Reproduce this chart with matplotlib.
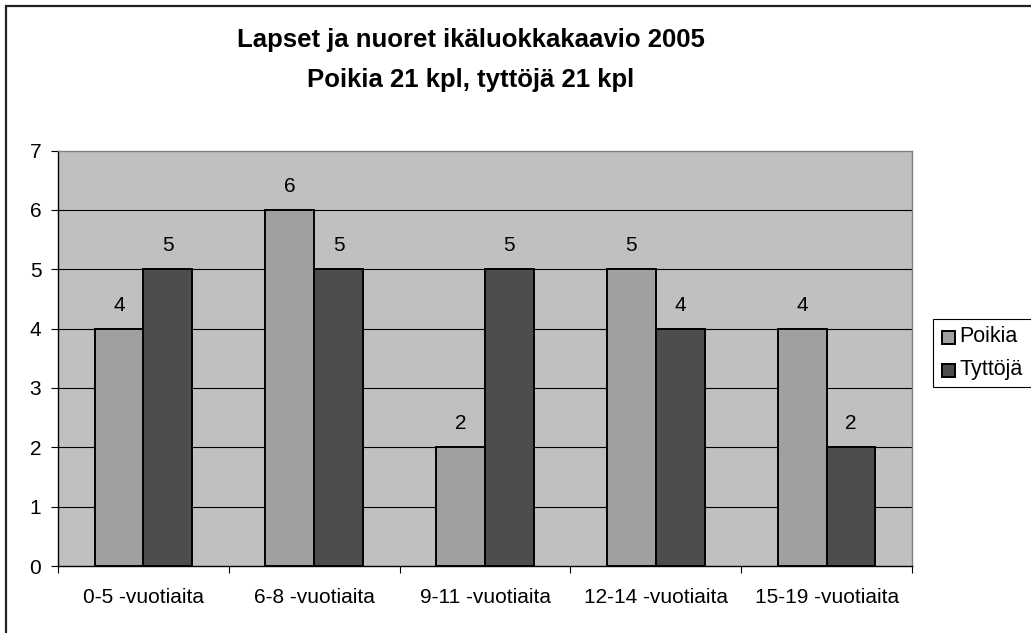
import matplotlib
matplotlib.use("Agg")
import matplotlib.pyplot as plt
import matplotlib.patches as mpatches
import numpy as np

plt.rcParams['font.family'] = ['Liberation Sans', 'DejaVu Sans']

categories = ['0-5 -vuotiaita', '6-8 -vuotiaita', '9-11 -vuotiaita',
              '12-14 -vuotiaita', '15-19 -vuotiaita']
poikia = [4, 6, 2, 5, 4]
tyttoja = [5, 5, 5, 4, 2]
series_names = ['Poikia', 'Tyttöjä']
title_lines = ['Lapset ja nuoret ikäluokkakaavio 2005',
               'Poikia 21 kpl, tyttöjä 21 kpl']

W, H = 1031, 633
fig = plt.figure(figsize=(W / 100, H / 100), dpi=100)


def fx(x):
    return x / W


def fy(y):
    return 1 - y / H


# plot area
ax = fig.add_axes([fx(58), fy(566), fx(912) - fx(58), fy(150.5) - fy(566)])
ax.set_facecolor('#C0C0C0')

colors = ['#A0A0A0', '#4D4D4D']
w = 1 / 3.5
x = np.arange(len(categories)) + 0.5
for vals, off, c in [(poikia, -w / 2, colors[0]), (tyttoja, w / 2, colors[1])]:
    bars = ax.bar(x + off, vals, width=w, color=c, edgecolor='black',
                  linewidth=1.4, zorder=3)
    for b, v in zip(bars, vals):
        ax.annotate(str(v), (b.get_x() + b.get_width() / 2, v),
                    xytext=(0, 13), textcoords='offset points',
                    ha='center', va='baseline', fontsize=15)

ax.set_xlim(0, len(categories))
ax.set_ylim(0, 7)
ax.set_yticks(range(8))
for yv in range(1, 7):
    ax.axhline(yv, color='black', lw=0.8, zorder=1)

ax.set_xticks(range(len(categories) + 1))
ax.set_xticklabels([])
ax.set_xticks(x, minor=True)
ax.set_xticklabels(categories, minor=True, fontsize=15)
ax.tick_params(axis='x', which='minor', length=0, pad=16)
ax.tick_params(axis='x', which='major', length=5, direction='out', width=0.8)
ax.tick_params(axis='y', length=5, direction='out', width=0.8, pad=7,
               labelsize=15)

ax.spines['left'].set_color('black')
ax.spines['bottom'].set_color('black')
ax.spines['top'].set_color('#808080')
ax.spines['right'].set_color('#808080')
for s in ax.spines.values():
    s.set_linewidth(1.0)

# title
fig.text(fx(471), fy(47), title_lines[0], ha='center', va='baseline',
         fontsize=18.5, fontweight='bold')
fig.text(fx(471), fy(87), title_lines[1], ha='center', va='baseline',
         fontsize=18.5, fontweight='bold')

# legend box (runs past the right edge like the reference)
fig.patches.append(mpatches.Rectangle((fx(933), fy(387)), fx(1045) - fx(933),
                                      fy(319) - fy(387), transform=fig.transFigure,
                                      fill=True, facecolor='white',
                                      edgecolor='black', lw=0.8))
for name, c, yc in zip(series_names, colors, [337, 370]):
    fig.patches.append(mpatches.Rectangle((fx(941.5), fy(yc + 6.5)), fx(13), 13 / H,
                                          transform=fig.transFigure,
                                          facecolor=c, edgecolor='black', lw=1.4))
    fig.text(fx(959), fy(yc), name, ha='left', va='center', fontsize=15.5)

# chart area border
fig.patches.append(mpatches.Rectangle((fx(6), fy(700)), fx(1100), fy(6) - fy(700),
                                      transform=fig.transFigure, fill=False,
                                      edgecolor='#222222', lw=1.6))

fig.savefig('out.png', dpi=100)
